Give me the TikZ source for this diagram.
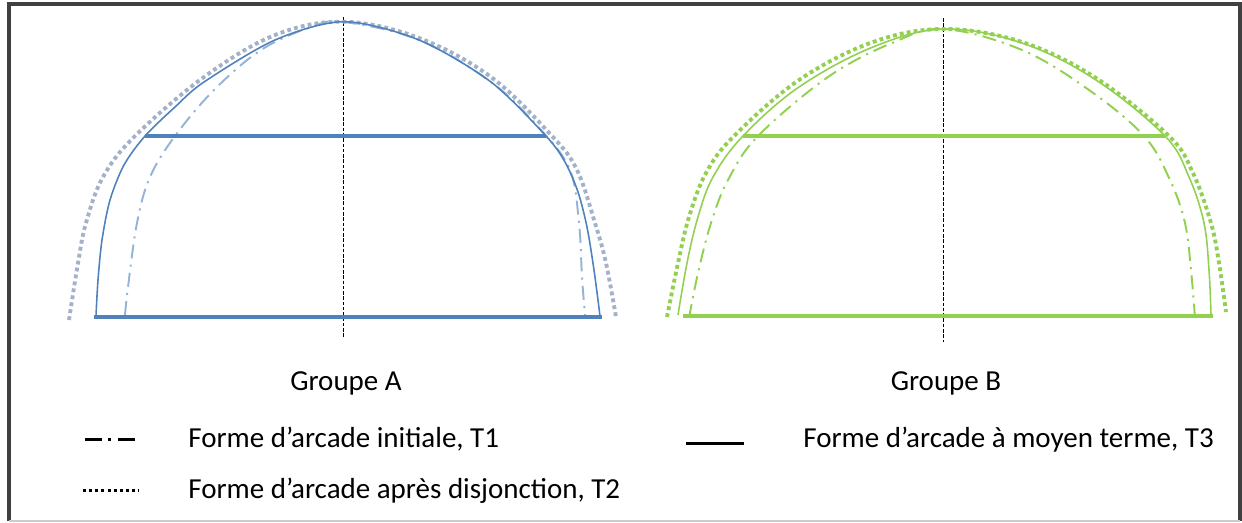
\documentclass[tikz,border=0pt]{standalone}
\usepackage{fontspec}
\setmainfont{Carlito}
\usepackage{tikz}
\definecolor{bleuA}{HTML}{4F81BD}
\definecolor{grisA}{HTML}{A3B1C9}
\definecolor{clairA}{HTML}{95B3D7}
\definecolor{vertB}{HTML}{92D050}
\definecolor{cadre}{HTML}{404040}
\tikzset{
  tun/.style={line width=1.1pt, dash pattern=on 8pt off 3.5pt on 1.2pt off 3.5pt},
  tdeux/.style={line width=2.2pt, dash pattern=on 2.2pt off 1.8pt},
  ttrois/.style={line width=0.9pt},
  barre/.style={line width=2.8pt},
  axe/.style={line width=0.5pt, dash pattern=on 2pt off 1pt},
  texte/.style={font=\fontsize{16.5pt}{19pt}\selectfont, inner sep=0pt}
}

\begin{document}
\begin{tikzpicture}[x=0.02cm, y=-0.02cm]
            \useasboundingbox (0,0) rectangle (1242,522);
            % cadre
            \draw [cadre, line width=2.2pt] (9,521) -- (9,4) -- (1240,4) -- (1240,521);
            \draw [black!20, line width=0.6pt] (9,521) -- (1240,521);
            % groupe A
            \draw [axe] (343,17) -- (343,338);
            \draw [grisA, tdeux] plot[smooth, tension=0.6] coordinates {(69,320) (78,263) (86,223) (103,177) (135,136) (204,77) (275,35) (344,21.7) (419,38) (491,77) (552,136) (577,170) (595,223) (606,263) (616,317)};
            \draw [clairA, tun] plot[smooth, tension=0.6] coordinates {(125,315) (128,287) (137,223) (150,177) (175,136) (214,90) (261,50) (311,27) (344,22) (419,40) (491,82) (541,130) (570,170) (579,223) (582,277) (585,315)};
            \draw [bleuA, ttrois] plot[smooth, tension=0.5] coordinates {(96,316) (98,280) (102,240) (110,200) (124,165) (145,136) (175,107) (204,82) (275,40) (344,21.7) (419,40) (491,82) (546,136) (565,162) (578,192) (587,227) (594,270) (600,316)};
            \draw [bleuA, barre] (145,136) -- (546,136);
            \draw [bleuA, barre] (94,317) -- (602,317);
            % groupe B
            \draw [axe] (943,18) -- (943,342);
            \draw [vertB, tdeux] plot[smooth, tension=0.6] coordinates {(667,317) (678,263) (689,217) (706,173) (734,136) (799,80) (873,42) (944,29) (1022,42) (1096,78) (1169,136) (1193,173) (1211,223) (1219,263) (1226,312)};
            \draw [vertB, tun] plot[smooth, tension=0.6] coordinates {(689,318) (698,273) (711,223) (728,180) (758,136) (828,77) (892,43) (944,29) (1022,50) (1089,90) (1144,136) (1170,180) (1185,223) (1191,270) (1195,318)};
            \draw [vertB, ttrois] plot[smooth, tension=0.6] coordinates {(678,315) (687,263) (698,217) (713,177) (743,136) (799,87) (873,47) (944,29) (1022,43) (1096,80) (1165,136) (1189,177) (1204,223) (1209,270) (1211,315)};
            \draw [vertB, barre] (743,136) -- (1165,136);
            \draw [vertB, barre] (683,316) -- (1213,316);
            % titres
            \node [texte] (grpA) at (346,383) {Groupe A};
            \node [texte] (grpB) at (946,383) {Groupe B};
            % legende
            \coordinate (unG) at (85,439);
            \coordinate (unD) at (135,439);
            \coordinate (deuxG) at (83,490);
            \coordinate (deuxD) at (139,490);
            \coordinate (troisG) at (686,443);
            \coordinate (troisD) at (744,443);
            \draw [line width=1.7pt, dash pattern=on 9.6pt off 3.6pt on 1.7pt off 4pt] (unG) -- (unD);
            \draw [line width=1.7pt, dash pattern=on 1.7pt off 1.8pt] (deuxG) -- (deuxD);
            \draw [line width=1.7pt] (troisG) -- (troisD);
            \node [texte, anchor=west] (legun) at (188,439) {Forme d’arcade initiale, T1};
            \node [texte, anchor=west] (legdeux) at (188,491) {Forme d’arcade après disjonction, T2};
            \node [texte, anchor=west] (legtrois) at (803,440) {Forme d’arcade à moyen terme, T3};
        \end{tikzpicture}
\end{document}
